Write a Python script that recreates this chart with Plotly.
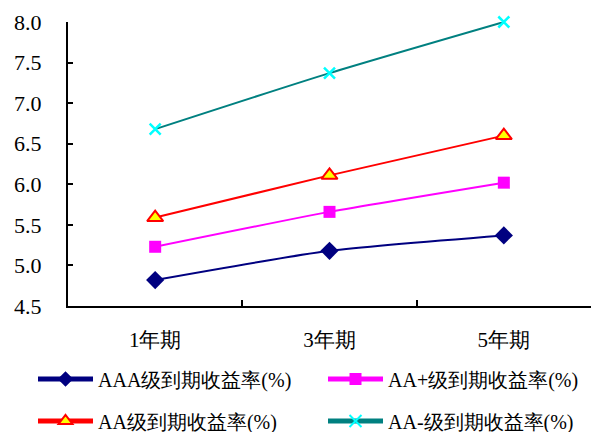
import plotly.graph_objects as go

# 到期收益率 by tenor and rating
tenors = ["1年期", "3年期", "5年期"]
aaa = [4.82, 5.18, 5.37]
aa_plus = [5.23, 5.66, 6.02]
aa = [5.59, 6.11, 6.60]
aa_minus = [6.68, 7.37, 8.00]

font_family = "Times New Roman, Liberation Serif, Tinos, DejaVu Serif"

fig = go.Figure()
fig.add_trace(go.Scatter(
    x=tenors, y=aaa, name="AAA级到期收益率(%)", mode="lines+markers",
    line=dict(color="#000080", width=2, shape="spline", smoothing=0.6),
    marker=dict(symbol="diamond", size=14, color="#000080"),
    legend="legend", cliponaxis=False,
))
fig.add_trace(go.Scatter(
    x=tenors, y=aa_plus, name="AA+级到期收益率(%)", mode="lines+markers",
    line=dict(color="#FF00FF", width=2, shape="spline", smoothing=0.6),
    marker=dict(symbol="square", size=12, color="#FF00FF"),
    legend="legend2", cliponaxis=False,
))
fig.add_trace(go.Scatter(
    x=tenors, y=aa, name="AA级到期收益率(%)", mode="lines+markers",
    line=dict(color="#FF0000", width=2, shape="spline", smoothing=0.6),
    marker=dict(symbol="triangle-up", size=14, color="#FFFF00",
                line=dict(color="#FF0000", width=2)),
    legend="legend3", cliponaxis=False,
))
fig.add_trace(go.Scatter(
    x=tenors, y=aa_minus, name="AA-级到期收益率(%)", mode="lines+markers",
    line=dict(color="#008080", width=2, shape="spline", smoothing=0.6),
    marker=dict(symbol="x-thin", size=11, color="#00FFFF",
                line=dict(color="#00FFFF", width=2.5)),
    legend="legend4", cliponaxis=False,
))

legend_style = dict(
    orientation="h", xanchor="left", yanchor="middle",
    xref="container", yref="container",
    itemwidth=55,
    font=dict(family=font_family, size=20, color="black"),
    itemsizing="constant", bgcolor="rgba(0,0,0,0)",
)
col_x = [33 / 595, 323 / 595]
row_y = [1 - 379 / 432, 1 - 421 / 432]

fig.update_layout(
    width=595, height=432,
    margin=dict(l=68, r=4, t=22, b=126, autoexpand=False),
    paper_bgcolor="white", plot_bgcolor="white",
    font=dict(family=font_family, size=21, color="black"),
    showlegend=True,
    legend=dict(legend_style, x=col_x[0], y=row_y[0]),
    legend2=dict(legend_style, x=col_x[1], y=row_y[0]),
    legend3=dict(legend_style, x=col_x[0], y=row_y[1]),
    legend4=dict(legend_style, x=col_x[1], y=row_y[1]),
)
fig.update_xaxes(
    type="category", range=[-0.5, 2.5],
    showline=True, linecolor="black", linewidth=2,
    ticks="inside", tickson="boundaries", ticklen=6, tickwidth=2, tickcolor="black",
    showgrid=False, zeroline=False,
    tickfont=dict(size=21), ticklabelstandoff=14,
)
fig.update_yaxes(
    range=[4.5, 8.0], dtick=0.5, tickformat=".1f",
    showline=True, linecolor="black", linewidth=2,
    ticks="inside", ticklen=5, tickwidth=2, tickcolor="black",
    showgrid=False, zeroline=False,
    tickfont=dict(size=22), ticklabelstandoff=20,
)

fig.write_html("out.html")
